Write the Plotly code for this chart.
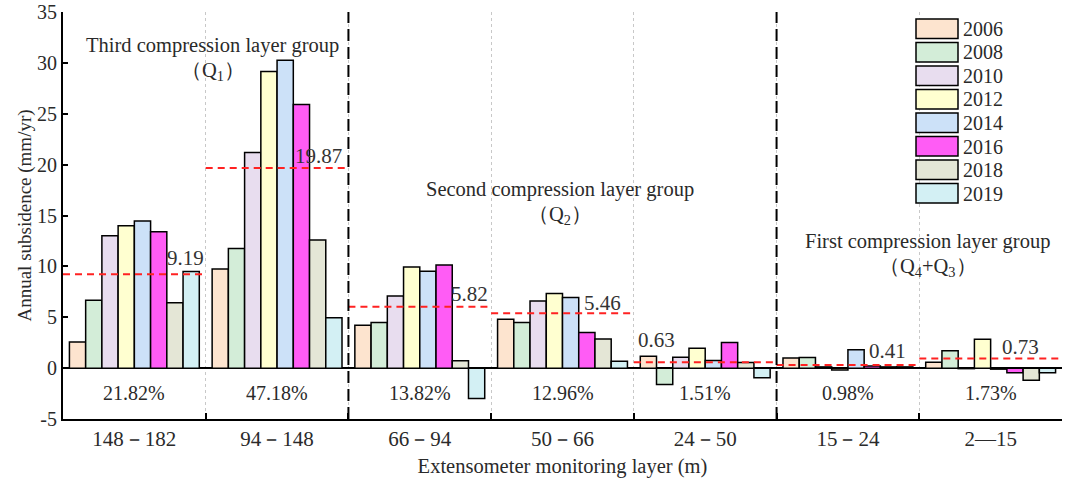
import plotly.graph_objects as go

# ---------------- data ----------------
layers = ["148－182", "94－148", "66－94", "50－66", "24－50", "15－24", "2—15"]
years = ["2006", "2008", "2010", "2012", "2014", "2016", "2018", "2019"]
colors = ["#FDE4CF", "#D3EDD8", "#E8DDEF", "#FFFFD0", "#CCE1F8", "#FF5CF5", "#E4E6D6", "#D3F0F4"]

v2006 = [2.57, 9.74, 4.22, 4.81, 1.17, 1.00, 0.57]
v2008 = [6.66, 11.75, 4.48, 4.48, -1.62, 1.05, 1.70]
v2010 = [13.00, 21.20, 7.08, 6.59, 1.07, 0.12, -0.05]
v2012 = [14.00, 29.15, 9.93, 7.34, 1.95, -0.18, 2.85]
v2014 = [14.45, 30.25, 9.51, 6.95, 0.75, 1.80, -0.10]
v2016 = [13.40, 25.90, 10.13, 3.51, 2.53, 0.20, -0.45]
v2018 = [6.43, 12.60, 0.72, 2.86, 0.55, 0.12, -1.20]
v2019 = [9.50, 4.94, -2.98, 0.68, -0.94, 0.12, -0.45]
series = [v2006, v2008, v2010, v2012, v2014, v2016, v2018, v2019]

mean_labels = ["9.19", "19.87", "5.82", "5.46", "0.63", "0.41", "0.73"]
mean_levels = [9.22, 19.67, 6.04, 5.39, 0.58, 0.30, 0.94]
shares = ["21.82%", "47.18%", "13.82%", "12.96%", "1.51%", "0.98%", "1.73%"]

FONT = "Liberation Serif"
TXT = "#2a2a2a"
xpos = list(range(len(layers)))

fig = go.Figure()

for yr, col, vals in zip(years, colors, series):
    fig.add_trace(go.Bar(
        x=xpos, y=vals, name=yr,
        marker=dict(color=col, line=dict(color="black", width=1.5)),
        showlegend=False,
    ))

# red dashed mean lines spanning each layer
mx, my = [], []
for i, m in enumerate(mean_levels):
    mx += [i - 0.5, i + 0.5, None]
    my += [m, m, None]
fig.add_trace(go.Scatter(x=mx, y=my, mode="lines",
                         line=dict(color="#FF2222", width=2, dash="7px,5px"),
                         showlegend=False, hoverinfo="skip"))

# percentage shares
for i, s in enumerate(shares):
    fig.add_annotation(x=i, y=-2.45, text=s, showarrow=False,
                       font=dict(family=FONT, size=20, color=TXT))

# mean value labels
lab_dx = [0.36, 0.29, 0.35, 0.28, -0.34, 0.28, 0.21]
lab_dy = [1.6, 1.2, 1.2, 1.0, 2.2, 1.4, 1.1]
for i, (t, m) in enumerate(zip(mean_labels, mean_levels)):
    fig.add_annotation(x=i + lab_dx[i], y=m + lab_dy[i], text=t, showarrow=False,
                       font=dict(family=FONT, size=21, color="#333"))

# group titles
groups = [
    (0.55, 31.7, "Third compression layer group", 29.2, "（Q<sub>1</sub>）"),
    (2.98, 17.6, "Second compression layer group", 15.0, "（Q<sub>2</sub>）"),
    (5.56, 12.4, "First compression layer group", 9.9, "（Q<sub>4</sub>+Q<sub>3</sub>）"),
]
for gx, gy, t1, gy2, t2 in groups:
    fig.add_annotation(x=gx, y=gy, text=t1, showarrow=False,
                       font=dict(family=FONT, size=20.5, color=TXT))
    fig.add_annotation(x=gx, y=gy2, text=t2, showarrow=False,
                       font=dict(family=FONT, size=20.5, color=TXT))

# black dashed separators between compression groups
for xs in [1.5, 4.5]:
    fig.add_shape(type="line", x0=xs, x1=xs, y0=0, y1=1, xref="x", yref="paper",
                  line=dict(color="black", width=2, dash="12px,6px"))

# custom legend (large swatches)
L, R = 63, 1062
T, B = 12, 419
def px(xp):
    return (xp - L) / (R - L)
def py(yp):
    return (B - yp) / (B - T)
for k, (yr, col) in enumerate(zip(years, colors)):
    top = 19 + 23.5 * k
    fig.add_shape(type="rect", xref="paper", yref="paper",
                  x0=px(916), x1=px(958), y0=py(top + 19.5), y1=py(top),
                  fillcolor=col, line=dict(color="black", width=1.5))
    fig.add_annotation(xref="paper", yref="paper", x=px(961), y=py(top + 10),
                       xanchor="left", yanchor="middle", text=yr, showarrow=False,
                       font=dict(family=FONT, size=20, color=TXT))

fig.update_layout(
    width=1065, height=479,
    margin=dict(l=63, r=3, t=12, b=60, autoexpand=False),
    paper_bgcolor="white", plot_bgcolor="white",
    barmode="group", bargap=0.09, bargroupgap=0,
    font=dict(family=FONT, size=18, color=TXT),
)
fig.update_xaxes(
    range=[-0.5, 6.5], tickmode="array", tickvals=xpos, ticktext=layers,
    ticks="", showgrid=False, zeroline=False, automargin=False,
    showline=True, linecolor="black", linewidth=2,
    tickfont=dict(family=FONT, size=21, color=TXT),
    title=dict(text="Extensometer monitoring layer (m)", font=dict(family=FONT, size=20.5), standoff=8),
    minor=dict(tickmode="array", tickvals=[0.5, 1.5, 2.5, 3.5, 4.5, 5.5], ticks="inside",
               ticklen=6, tickwidth=1.5, tickcolor="black",
               showgrid=True, gridcolor="#C8C8C8", griddash="dot", gridwidth=1),
)
fig.update_yaxes(
    range=[-5, 35.001], tickmode="array", tickvals=[-5, 0, 5, 10, 15, 20, 25, 30, 35],
    ticktext=["-5", "0", "5", "10", "15", "20", "25", "30", "35"],
    ticks="inside", ticklen=5, tickwidth=2, tickcolor="black", ticklabeloverflow="allow",
    showgrid=False, showline=True, linecolor="black", linewidth=2, automargin=False,
    zeroline=True, zerolinecolor="black", zerolinewidth=2,
    tickfont=dict(family=FONT, size=20, color=TXT),
    title=dict(text="Annual subsidence (mm/yr)", font=dict(family=FONT, size=19), standoff=0),
)

fig.write_html("out.html", config={"displayModeBar": False},
               post_script="document.body.style.margin='0';document.body.style.overflow='hidden';")
